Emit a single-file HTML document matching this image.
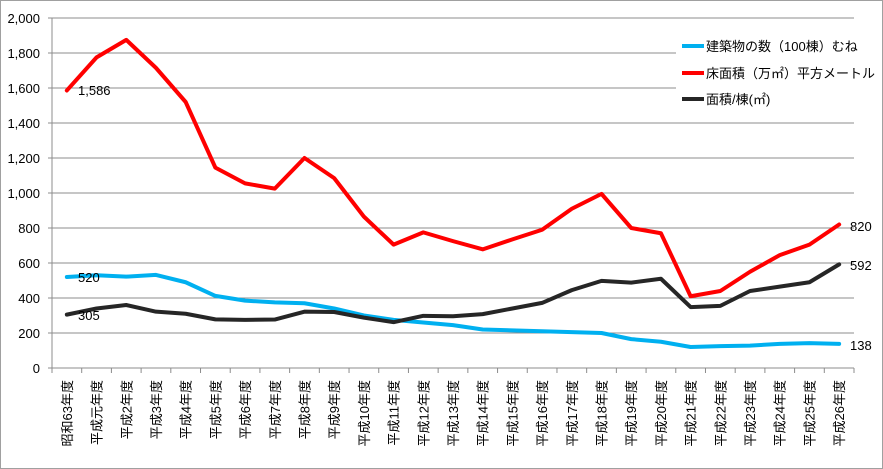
<!DOCTYPE html>
<html><head><meta charset="utf-8"><style>
body{margin:0;background:#fff}
svg{display:block;font-family:"Liberation Sans","Noto Sans CJK JP",sans-serif}
</style></head><body>
<svg id="s" width="883" height="469" xmlns="http://www.w3.org/2000/svg">
<rect x="0.5" y="0.5" width="882" height="468" fill="#fff" stroke="#a0a0a0"/>
</svg>
<script>
var s=document.getElementById('s'),ns='http://www.w3.org/2000/svg';
function el(t,a,txt){var e=document.createElementNS(ns,t);for(var k in a)e.setAttribute(k,a[k]);if(txt!=null)e.textContent=txt;s.appendChild(e);return e;}
var L=52,R=854,T=18,B=368,n=27,cw=(R-L)/n;
function Y(v){return B-v*0.175;}function X(i){return L+cw/2+i*cw;}
for(var v=200;v<=2000;v+=200){el('line',{x1:48,x2:R,y1:Y(v),y2:Y(v),stroke:'#8c8c8c','stroke-width':1});}
for(var v=0;v<=2000;v+=200){el('text',{x:40,y:Y(v)+5,'text-anchor':'end','font-size':13,fill:'#000'},v.toLocaleString('en-US'));}
el('line',{x1:L,x2:L,y1:T,y2:B+4,stroke:'#8c8c8c'});
el('line',{x1:L-4,x2:R,y1:B,y2:B,stroke:'#8c8c8c'});
for(var i=0;i<=n;i++)el('line',{x1:L+i*cw,x2:L+i*cw,y1:B,y2:B+5,stroke:'#8c8c8c'});
var labs=['昭和63年度','平成元年度'];for(var i=2;i<=26;i++)labs.push('平成'+i+'年度');
labs.forEach(function(t,i){var x=X(i)+5,y=380;el('text',{x:x,y:y,transform:'rotate(-90 '+x+' '+y+')','text-anchor':'end','font-size':13,fill:'#000'},t);});
var red=[1586,1775,1875,1715,1520,1145,1055,1025,1200,1085,865,705,775,725,678,735,790,910,995,800,770,410,440,550,645,705,820];
var blue=[520,530,522,532,490,412,385,375,370,340,300,275,260,245,220,215,210,205,200,165,150,120,125,128,138,142,138];
var blk=[305,340,360,322,310,278,275,277,322,320,288,262,298,296,308,340,372,445,498,488,510,348,355,440,465,490,592];
el('rect',{x:676,y:28,width:178,height:82,fill:'#fff'});
[[blue,'#00b0f0'],[blk,'#262626'],[red,'#ff0000']].forEach(function(d){el('polyline',{points:d[0].map(function(v,i){return X(i)+','+Y(v)}).join(' '),fill:'none',stroke:d[1],'stroke-width':4,'stroke-linejoin':'round','stroke-linecap':'round'});});
el('text',{x:78,y:95,'font-size':13},'1,586');
el('text',{x:78,y:282,'font-size':13},'520');
el('text',{x:78,y:320,'font-size':13},'305');
el('text',{x:850,y:231,'font-size':13},'820');
el('text',{x:850,y:270,'font-size':13},'592');
el('text',{x:850,y:350,'font-size':13},'138');
var lg=[['#00b0f0','建築物の数（100棟）むね',46],['#ff0000','床面積（万㎡）平方メートル',73],['#262626','面積/棟(㎡)',99]];
lg.forEach(function(d){el('line',{x1:682,x2:704,y1:d[2],y2:d[2],stroke:d[0],'stroke-width':4});el('text',{x:706,y:d[2]+5,'font-size':13},d[1]);});
</script>
</body></html>
